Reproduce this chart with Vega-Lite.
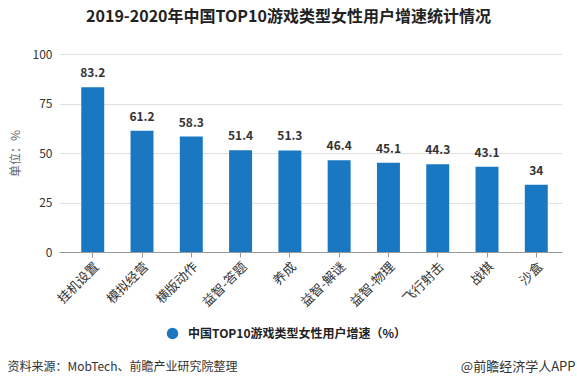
{
  "$schema": "https://vega.github.io/schema/vega-lite/v6.json",
  "width": 503,
  "height": 198,
  "autosize": "none",
  "padding": {"left": 59, "top": 54, "right": 15, "bottom": 134},
  "background": "white",
  "config": {
    "font": "Noto Sans CJK SC",
    "view": {"stroke": null}
  },
  "title": {
    "text": "2019-2020年中国TOP10游戏类型女性用户增速统计情况",
    "fontSize": 16,
    "fontWeight": "bold",
    "color": "#222222",
    "anchor": "middle",
    "dx": -22,
    "offset": 23
  },
  "data": {
    "values": [
      {"category": "挂机设置", "value": 83.2, "series": "中国TOP10游戏类型女性用户增速（%）"},
      {"category": "模拟经营", "value": 61.2, "series": "中国TOP10游戏类型女性用户增速（%）"},
      {"category": "横版动作", "value": 58.3, "series": "中国TOP10游戏类型女性用户增速（%）"},
      {"category": "益智-答题", "value": 51.4, "series": "中国TOP10游戏类型女性用户增速（%）"},
      {"category": "养成", "value": 51.3, "series": "中国TOP10游戏类型女性用户增速（%）"},
      {"category": "益智-解谜", "value": 46.4, "series": "中国TOP10游戏类型女性用户增速（%）"},
      {"category": "益智-物理", "value": 45.1, "series": "中国TOP10游戏类型女性用户增速（%）"},
      {"category": "飞行射击", "value": 44.3, "series": "中国TOP10游戏类型女性用户增速（%）"},
      {"category": "战棋", "value": 43.1, "series": "中国TOP10游戏类型女性用户增速（%）"},
      {"category": "沙盒", "value": 34, "series": "中国TOP10游戏类型女性用户增速（%）"}
    ]
  },
  "encoding": {
    "x": {
      "field": "category",
      "type": "nominal",
      "sort": null,
      "scale": {"paddingInner": 0.534, "paddingOuter": 0.37, "align": 0.61},
      "axis": {
        "title": "资料来源：MobTech、前瞻产业研究院整理",
        "titleFontSize": 12,
        "titleFontWeight": "normal",
        "titleColor": "#333333",
        "titleX": -52,
        "titleY": 114,
        "titleAlign": "left",
        "titleAnchor": "start",
        "titleBaseline": "middle",
        "labelAngle": -45,
        "labelFontSize": 13,
        "labelColor": "#333333",
        "labelPadding": 3,
        "domainColor": "#999999",
        "tickColor": "#999999",
        "tickSize": 5
      }
    }
  },
  "layer": [
    {
      "mark": {"type": "bar", "color": "#1a78c2"},
      "encoding": {
        "y": {
          "field": "value",
          "type": "quantitative",
          "scale": {"domain": [0, 100]},
          "axis": {
            "title": "单位：%",
            "titleFontSize": 12,
            "titleFontWeight": "normal",
            "titleColor": "#666666",
            "titlePadding": 10,
            "values": [0, 25, 50, 75, 100],
            "labelFontSize": 12,
            "labelColor": "#333333",
            "labelPadding": 7,
            "domain": false,
            "ticks": false,
            "gridColor": "#e0e0e0"
          }
        },
        "color": {
          "field": "series",
          "type": "nominal",
          "scale": {"range": ["#1a78c2"]},
          "legend": {
            "title": null,
            "orient": "none",
            "legendX": 107,
            "legendY": 273,
            "symbolType": "circle",
            "symbolSize": 130,
            "labelFontSize": 12,
            "labelFontWeight": "bold",
            "labelColor": "#222222",
            "labelOffset": 9,
            "labelLimit": 0
          }
        }
      }
    },
    {
      "mark": {"type": "text", "baseline": "bottom", "dy": -7, "fontSize": 12, "fontWeight": "bold", "color": "#333333"},
      "encoding": {
        "y": {
          "field": "value",
          "type": "quantitative",
          "scale": {"domain": [0, 100]},
          "axis": {
            "orient": "right",
            "title": "@前瞻经济学人APP",
            "titleAngle": 0,
            "titleFontSize": 13,
            "titleFontWeight": "normal",
            "titleColor": "#333333",
            "titleX": 13,
            "titleY": 312,
            "titleAlign": "right",
            "titleBaseline": "middle",
            "labels": false,
            "ticks": false,
            "domain": false,
            "grid": false
          }
        },
        "text": {"field": "value", "type": "quantitative"}
      }
    }
  ],
  "resolve": {"axis": {"y": "independent"}}
}
